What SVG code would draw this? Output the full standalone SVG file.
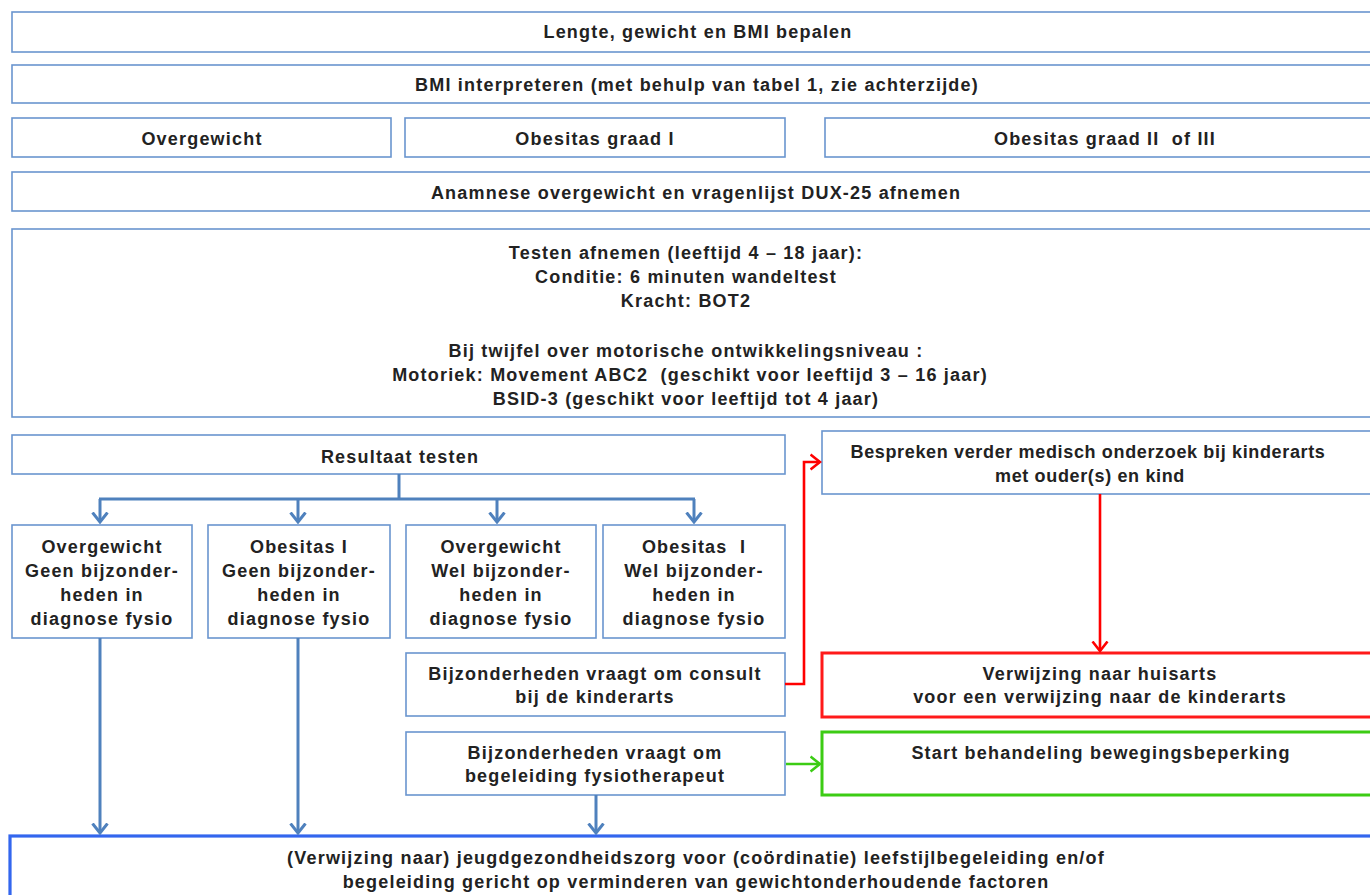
<svg xmlns="http://www.w3.org/2000/svg" width="1370" height="895" viewBox="0 0 1370 895">
<style>
  .box { fill: #ffffff; stroke: #6a95cf; stroke-width: 1.6; }
  .red { fill: #ffffff; stroke: #ff1a1a; stroke-width: 3; }
  .green { fill: #ffffff; stroke: #3ccc14; stroke-width: 3; }
  .bottom { fill: #ffffff; stroke: #3366ee; stroke-width: 3.2; }
  text { font-family: "Liberation Sans", Arial, sans-serif; font-weight: bold; font-size: 18px; letter-spacing: 1.2px; fill: #222222; text-anchor: middle; }
  text.tight { letter-spacing: 0.65px; }
  .cb { fill: none; stroke: #4f81bd; stroke-width: 3; }
  .cr { fill: none; stroke: #ff0000; stroke-width: 2.6; }
  .cg { fill: none; stroke: #3ccc14; stroke-width: 2.6; }
</style>
<defs>
  <marker id="ab" viewBox="0 0 12 18" refX="10.5" refY="9" markerWidth="12" markerHeight="18" markerUnits="userSpaceOnUse" orient="auto">
    <path d="M1,1.5 L10.5,9 L1,16.5" fill="none" stroke="#4f81bd" stroke-width="3"/>
  </marker>
  <marker id="ar" viewBox="0 0 12 18" refX="10.5" refY="9" markerWidth="12" markerHeight="18" markerUnits="userSpaceOnUse" orient="auto">
    <path d="M1,1.5 L10.5,9 L1,16.5" fill="none" stroke="#ff0000" stroke-width="2.6"/>
  </marker>
  <marker id="ag" viewBox="0 0 12 18" refX="10.5" refY="9" markerWidth="12" markerHeight="18" markerUnits="userSpaceOnUse" orient="auto">
    <path d="M1,1.5 L10.5,9 L1,16.5" fill="none" stroke="#3ccc14" stroke-width="2.6"/>
  </marker>
</defs>
<rect width="1370" height="895" fill="#ffffff"/>

<g id="n-lengte">
  <rect class="box" x="12" y="12" width="1372" height="40"/>
  <text x="698" y="38">Lengte, gewicht en BMI bepalen</text>
</g>
<g id="n-bmi">
  <rect class="box" x="12" y="65" width="1372" height="38"/>
  <text x="697" y="91">BMI interpreteren (met behulp van tabel 1, zie achterzijde)</text>
</g>
<g id="n-overgewicht">
  <rect class="box" x="12" y="118" width="379" height="39"/>
  <text x="202" y="145">Overgewicht</text>
</g>
<g id="n-obesitas1">
  <rect class="box" x="405" y="118" width="380" height="39"/>
  <text x="595" y="145">Obesitas graad I</text>
</g>
<g id="n-obesitas23">
  <rect class="box" x="825" y="118" width="560" height="39"/>
  <text x="1105" y="145" xml:space="preserve">Obesitas graad II  of III</text>
</g>
<g id="n-anamnese">
  <rect class="box" x="12" y="172" width="1372" height="39"/>
  <text x="696" y="199">Anamnese overgewicht en vragenlijst DUX-25 afnemen</text>
</g>
<g id="n-testen">
  <rect class="box" x="12" y="229" width="1372" height="188"/>
  <text x="686" y="259">Testen afnemen (leeftijd 4 – 18 jaar):</text>
  <text x="686" y="283">Conditie: 6 minuten wandeltest</text>
  <text x="686" y="307">Kracht: BOT2</text>
  <text x="686" y="357">Bij twijfel over motorische ontwikkelingsniveau :</text>
  <text x="690" y="381" xml:space="preserve">Motoriek: Movement ABC2  (geschikt voor leeftijd 3 – 16 jaar)</text>
  <text x="686" y="405">BSID-3 (geschikt voor leeftijd tot 4 jaar)</text>
</g>
<g id="n-resultaat">
  <rect class="box" x="12" y="435" width="773" height="39"/>
  <text x="400" y="463">Resultaat testen</text>
</g>
<g id="n-r1">
  <rect class="box" x="12" y="525" width="180" height="113"/>
  <text x="102" y="553">Overgewicht</text>
  <text x="102" y="577">Geen bijzonder-</text>
  <text x="102" y="601">heden in</text>
  <text x="102" y="625">diagnose fysio</text>
</g>
<g id="n-r2">
  <rect class="box" x="208" y="525" width="182" height="113"/>
  <text x="299" y="553">Obesitas I</text>
  <text x="299" y="577">Geen bijzonder-</text>
  <text x="299" y="601">heden in</text>
  <text x="299" y="625">diagnose fysio</text>
</g>
<g id="n-r3">
  <rect class="box" x="406" y="525" width="190" height="113"/>
  <text x="501" y="553">Overgewicht</text>
  <text x="501" y="577">Wel bijzonder-</text>
  <text x="501" y="601">heden in</text>
  <text x="501" y="625">diagnose fysio</text>
</g>
<g id="n-r4">
  <rect class="box" x="603" y="525" width="182" height="113"/>
  <text x="694" y="553" xml:space="preserve">Obesitas  I</text>
  <text x="694" y="577">Wel bijzonder-</text>
  <text x="694" y="601">heden in</text>
  <text x="694" y="625">diagnose fysio</text>
</g>
<g id="n-consult">
  <rect class="box" x="406" y="653" width="379" height="63"/>
  <text x="595" y="680">Bijzonderheden vraagt om consult</text>
  <text x="595" y="703">bij de kinderarts</text>
</g>
<g id="n-fysio">
  <rect class="box" x="406" y="732" width="379" height="63"/>
  <text x="595" y="759">Bijzonderheden vraagt om</text>
  <text x="595" y="782">begeleiding fysiotherapeut</text>
</g>
<g id="n-bespreken">
  <rect class="box" x="822" y="431" width="562" height="63"/>
  <text class="tight" x="1088" y="458">Bespreken verder medisch onderzoek bij kinderarts</text>
  <text class="tight" x="1090" y="482">met ouder(s) en kind</text>
</g>
<g id="n-huisarts">
  <rect class="red" x="822" y="653" width="562" height="64"/>
  <text x="1100" y="680">Verwijzing naar huisarts</text>
  <text x="1100" y="703">voor een verwijzing naar de kinderarts</text>
</g>
<g id="n-behandeling">
  <rect class="green" x="822" y="732" width="562" height="63"/>
  <text x="1101" y="759">Start behandeling bewegingsbeperking</text>
</g>
<g id="n-jgz">
  <rect class="bottom" x="10" y="836" width="1376" height="80"/>
  <text x="696" y="864">(Verwijzing naar) jeugdgezondheidszorg voor (coördinatie) leefstijlbegeleiding en/of</text>
  <text x="696" y="888">begeleiding gericht op verminderen van gewichtonderhoudende factoren</text>
</g>

<g id="connectors">
  <path class="cb" d="M399,474 V499"/>
  <path class="cb" d="M99,499 H695"/>
  <path class="cb" d="M100,499 V522" marker-end="url(#ab)"/>
  <path class="cb" d="M298,499 V522" marker-end="url(#ab)"/>
  <path class="cb" d="M497,499 V522" marker-end="url(#ab)"/>
  <path class="cb" d="M694,499 V522" marker-end="url(#ab)"/>
  <path class="cb" d="M100,638 V833" marker-end="url(#ab)"/>
  <path class="cb" d="M298,638 V833" marker-end="url(#ab)"/>
  <path class="cb" d="M596,795 V833" marker-end="url(#ab)"/>
  <path class="cr" d="M785,684 H804 V462 H820" marker-end="url(#ar)"/>
  <path class="cr" d="M1100,494 V651" marker-end="url(#ar)"/>
  <path class="cg" d="M786,764 H820" marker-end="url(#ag)"/>
</g>
</svg>
